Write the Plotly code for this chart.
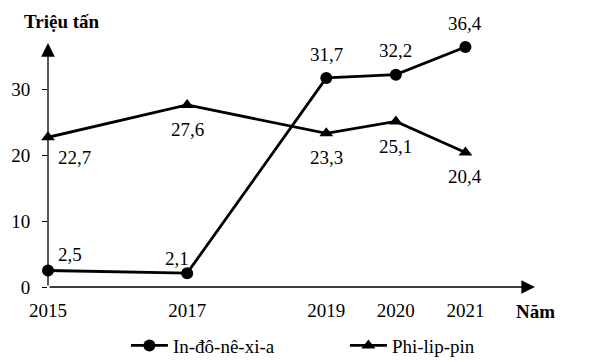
import plotly.graph_objects as go

# ---- data ----
years = [2015, 2017, 2019, 2020, 2021]
indonesia = [2.5, 2.1, 31.7, 32.2, 36.4]
philippines = [22.7, 27.6, 23.3, 25.1, 20.4]
y_ticks = [0, 10, 20, 30]
series_names = ["In-đô-nê-xi-a", "Phi-lip-pin"]
y_title = "Triệu tấn"
x_title = "Năm"

# ---- styling ----
FONT = "Liberation Serif"
FS = 19
indo_off = [(22, 16), (-10, 15), (0, 23), (0, 24), (0, 23)]
phil_off = [(26, -20), (0, -25), (0, -24), (0, -25), (0, -24)]

def fmt(v):
    return f"{v:.1f}".replace(".", ",")

fig = go.Figure()
fig.add_trace(go.Scatter(
    x=years, y=indonesia, name=series_names[0], mode="lines+markers",
    line=dict(color="black", width=2.8),
    marker=dict(symbol="circle", size=12, color="black"),
    cliponaxis=False,
))
fig.add_trace(go.Scatter(
    x=years, y=philippines, name=series_names[1], mode="lines+markers",
    line=dict(color="black", width=2.8),
    marker=dict(symbol="triangle-up", size=12, color="black"),
    cliponaxis=False,
))

txtfont = dict(family=FONT, size=FS, color="black")
ann = []
for xv, yv, (dx, dy) in zip(years, indonesia, indo_off):
    ann.append(dict(x=xv, y=yv, xref="x", yref="y", text=fmt(yv), showarrow=False,
                    xanchor="center", yanchor="middle", xshift=dx, yshift=dy, font=txtfont))
for xv, yv, (dx, dy) in zip(years, philippines, phil_off):
    ann.append(dict(x=xv, y=yv, xref="x", yref="y", text=fmt(yv), showarrow=False,
                    xanchor="center", yanchor="middle", xshift=dx, yshift=dy, font=txtfont))

x0, x1 = years[0], 2022
y1 = 37
# axis arrows
ann.append(dict(x=x0, y=y1, ax=x0, ay=0, xref="x", yref="y", axref="x", ayref="y",
                text="", showarrow=True, arrowhead=2, arrowsize=2.1, arrowwidth=1.3,
                arrowcolor="black", standoff=0))
ann.append(dict(x=x1, y=0, ax=x0, ay=0, xref="x", yref="y", axref="x", ayref="y",
                text="", showarrow=True, arrowhead=2, arrowsize=2.1, arrowwidth=1.3,
                arrowcolor="black", standoff=0))
# axis titles
ann.append(dict(x=0, y=1, xref="paper", yref="paper", text=f"<b>{y_title}</b>",
                showarrow=False, xanchor="center", yanchor="middle", xshift=14, yshift=22,
                font=txtfont))
ann.append(dict(x=x1, y=0, xref="x", yref="y", text=f"<b>{x_title}</b>",
                showarrow=False, xanchor="center", yanchor="middle", yshift=-24.5,
                font=txtfont))

fig.update_layout(
    width=610, height=362,
    margin=dict(l=48, r=75, t=43, b=75, autoexpand=False),
    paper_bgcolor="white", plot_bgcolor="white",
    font=txtfont,
    annotations=ann,
    showlegend=True,
    legend=dict(orientation="h", x=0.16, xanchor="left", y=-0.24, yanchor="middle",
                font=txtfont, itemwidth=37, entrywidth=167, bgcolor="rgba(0,0,0,0)"),
    xaxis=dict(range=[x0, x1], tickmode="array", tickvals=years, automargin=False,
               ticktext=[str(y) for y in years], showgrid=False, zeroline=False,
               showline=False, ticks="", ticklabelstandoff=10),
    yaxis=dict(range=[0, y1], tickmode="array", tickvals=y_ticks, automargin=False,
               ticktext=[str(t) for t in y_ticks], showgrid=False, zeroline=False,
               showline=False, ticks="outside", ticklen=5, tickwidth=1,
               tickcolor="black", ticklabelstandoff=8),
)

fig.write_html("out.html", config={"displayModeBar": False},
               post_script="document.body.style.margin='0';")
